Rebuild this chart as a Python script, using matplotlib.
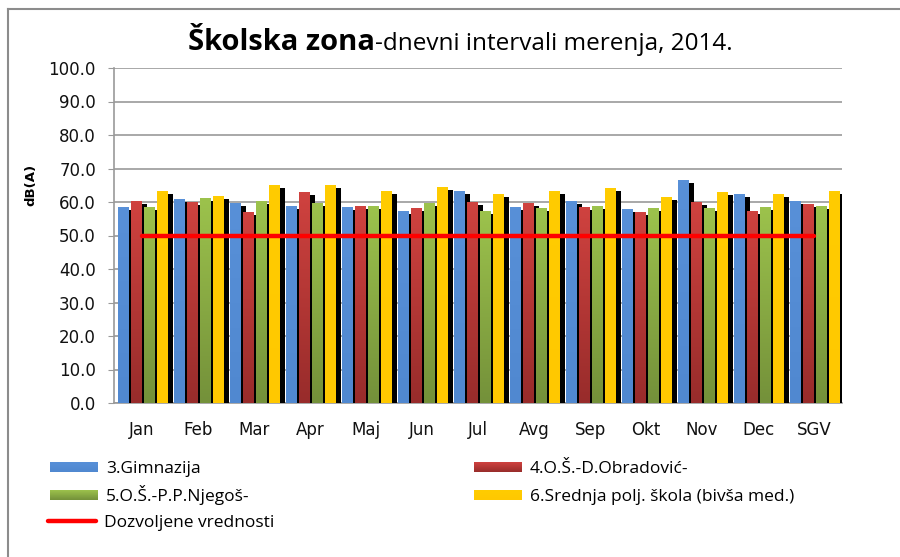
import matplotlib
matplotlib.use("Agg")
import matplotlib.pyplot as plt
import numpy as np
from matplotlib.colors import LinearSegmentedColormap

# ---------------------------------------------------------------------
# Data
# ---------------------------------------------------------------------

months = ["Jan", "Feb", "Mar", "Apr", "Maj", "Jun", "Jul", "Avg", "Sep",
          "Okt", "Nov", "Dec", "SGV"]

gimnazija = [58.5, 60.8, 59.6, 58.8, 58.5, 57.3, 63.2, 58.5, 60.2, 57.9, 66.5, 62.3, 60.2]
obradovic = [60.2, 60.0, 57.0, 62.9, 58.8, 58.2, 60.0, 59.6, 58.5, 57.0, 60.0, 57.3, 59.3]
njegos = [58.5, 61.1, 60.2, 59.6, 58.8, 59.6, 57.3, 58.2, 58.8, 58.2, 58.2, 58.5, 58.8]
poljoprivredna = [63.2, 61.7, 65.0, 65.0, 63.2, 64.4, 62.3, 63.2, 64.1, 61.4, 62.9, 62.3, 63.2]
dozvoljeno = [50.0] * len(months)

series_names = ["3.Gimnazija", "4.O.Š.-D.Obradović-", "5.O.Š.-P.P.Njegoš-",
                "6.Srednja polj. škola (bivša med.)"]
series_values = [gimnazija, obradovic, njegos, poljoprivredna]
# (top colour, bottom colour) for the gradient fill
series_colors = [("#5890d8", "#5088d0"),
                 ("#cf423f", "#982c2b"),
                 ("#9cc24c", "#74913a"),
                 ("#ffcc00", "#ffc800")]
limit_name = "Dozvoljene vrednosti"

# ---------------------------------------------------------------------
# Figure
# ---------------------------------------------------------------------

W, H = 900, 557
fig = plt.figure(figsize=(W / 100, H / 100), dpi=100)
ax = fig.add_axes([114 / W, 1 - 403 / H, (842 - 114) / W, (403 - 68) / H])

x = np.arange(len(months))
bar_w = 0.18
step = 0.233
start = -0.43
shadow_dx = 0.105
shadow_dy = 0.9


def gradient_cmap(top, bottom):
    return LinearSegmentedColormap.from_list("g", [bottom, top])


grad = np.linspace(0, 1, 64).reshape(-1, 1)

for i, (vals, (ctop, cbot)) in enumerate(zip(series_values, series_colors)):
    cmap = gradient_cmap(ctop, cbot)
    lefts = x + start + i * step
    # shadow behind each bar
    ax.bar(lefts + shadow_dx, np.array(vals) - shadow_dy, width=bar_w,
           align="edge", color="black", zorder=3 + 2 * i, linewidth=0)
    for xl, v in zip(lefts, vals):
        ax.imshow(grad, extent=[xl, xl + bar_w, 0, v], origin="lower",
                  cmap=cmap, aspect="auto", interpolation="bilinear",
                  zorder=4 + 2 * i)

ax.plot(x, dozvoljeno, color="#ff0000", linewidth=3.2, zorder=20,
        solid_capstyle="round")

ax.set_xlim(-0.5, len(months) - 0.5)
ax.set_ylim(0, 100)
ax.set_yticks(np.arange(0, 101, 10))
ax.set_yticklabels([f"{v:.1f}" for v in np.arange(0, 101, 10)])
ax.set_xticks(x)
ax.set_xticklabels(months)
ax.yaxis.grid(True, color="#999999", linewidth=1.2, zorder=0)
ax.set_axisbelow(True)
for side in ["top", "right"]:
    ax.spines[side].set_visible(False)
for side in ["left", "bottom"]:
    ax.spines[side].set_color("#999999")
    ax.spines[side].set_linewidth(1.2)
ax.tick_params(axis="y", length=4, color="#999999", labelsize=12, pad=9,
               labelcolor="#111111")
ax.tick_params(axis="x", length=0, labelsize=12, pad=13, labelcolor="#111111")

# ---------------------------------------------------------------------
# Overlay in pixel coordinates: frame, title, y label, legend
# ---------------------------------------------------------------------

ov = fig.add_axes([0, 0, 1, 1], zorder=-1)
ov.set_xlim(0, W)
ov.set_ylim(H, 0)
ov.axis("off")
ov.patch.set_alpha(0)

ov.plot([8, W], [9, 9], color="#8c8c8c", linewidth=1.5)
ov.plot([8, 8], [9, H], color="#8c8c8c", linewidth=1.5)

# title: bold part + regular part, centred together
t1 = ov.text(0, 50, "Školska zona", fontsize=21, fontweight="bold",
             family="Open Sans", va="baseline", ha="left")
t2 = ov.text(0, 50, "-dnevni intervali merenja, 2014.", fontsize=17.5,
             family="Open Sans", va="baseline", ha="left")
fig.canvas.draw()
w1 = t1.get_window_extent().width
w2 = t2.get_window_extent().width
tx = 460 - (w1 + w2) / 2
t1.set_x(tx)
t2.set_x(tx + w1)

fig.text(31 / W, 1 - 185 / H, "dB(A)", rotation=90, fontsize=9.5,
         fontweight="bold", ha="center", va="center")

legend_pos = [(50, 467), (474, 467), (50, 495), (474, 495)]
for (lx, ly), name, (ctop, cbot) in zip(legend_pos, series_names, series_colors):
    ov.imshow(grad[::-1], extent=[lx, lx + 48, ly + 5, ly - 5],
              cmap=gradient_cmap(ctop, cbot), aspect="auto",
              interpolation="bilinear")
    ov.text(lx + 56, ly + 6, name, fontsize=12.5, family="Open Sans",
            va="baseline", ha="left")
ov.plot([48, 96], [521, 521], color="#ff0000", linewidth=3.2,
        solid_capstyle="round")
ov.text(104, 527, limit_name, fontsize=12.5, family="Open Sans",
        va="baseline", ha="left")
ov.set_xlim(0, W)
ov.set_ylim(H, 0)

fig.savefig("out.png", dpi=100)
